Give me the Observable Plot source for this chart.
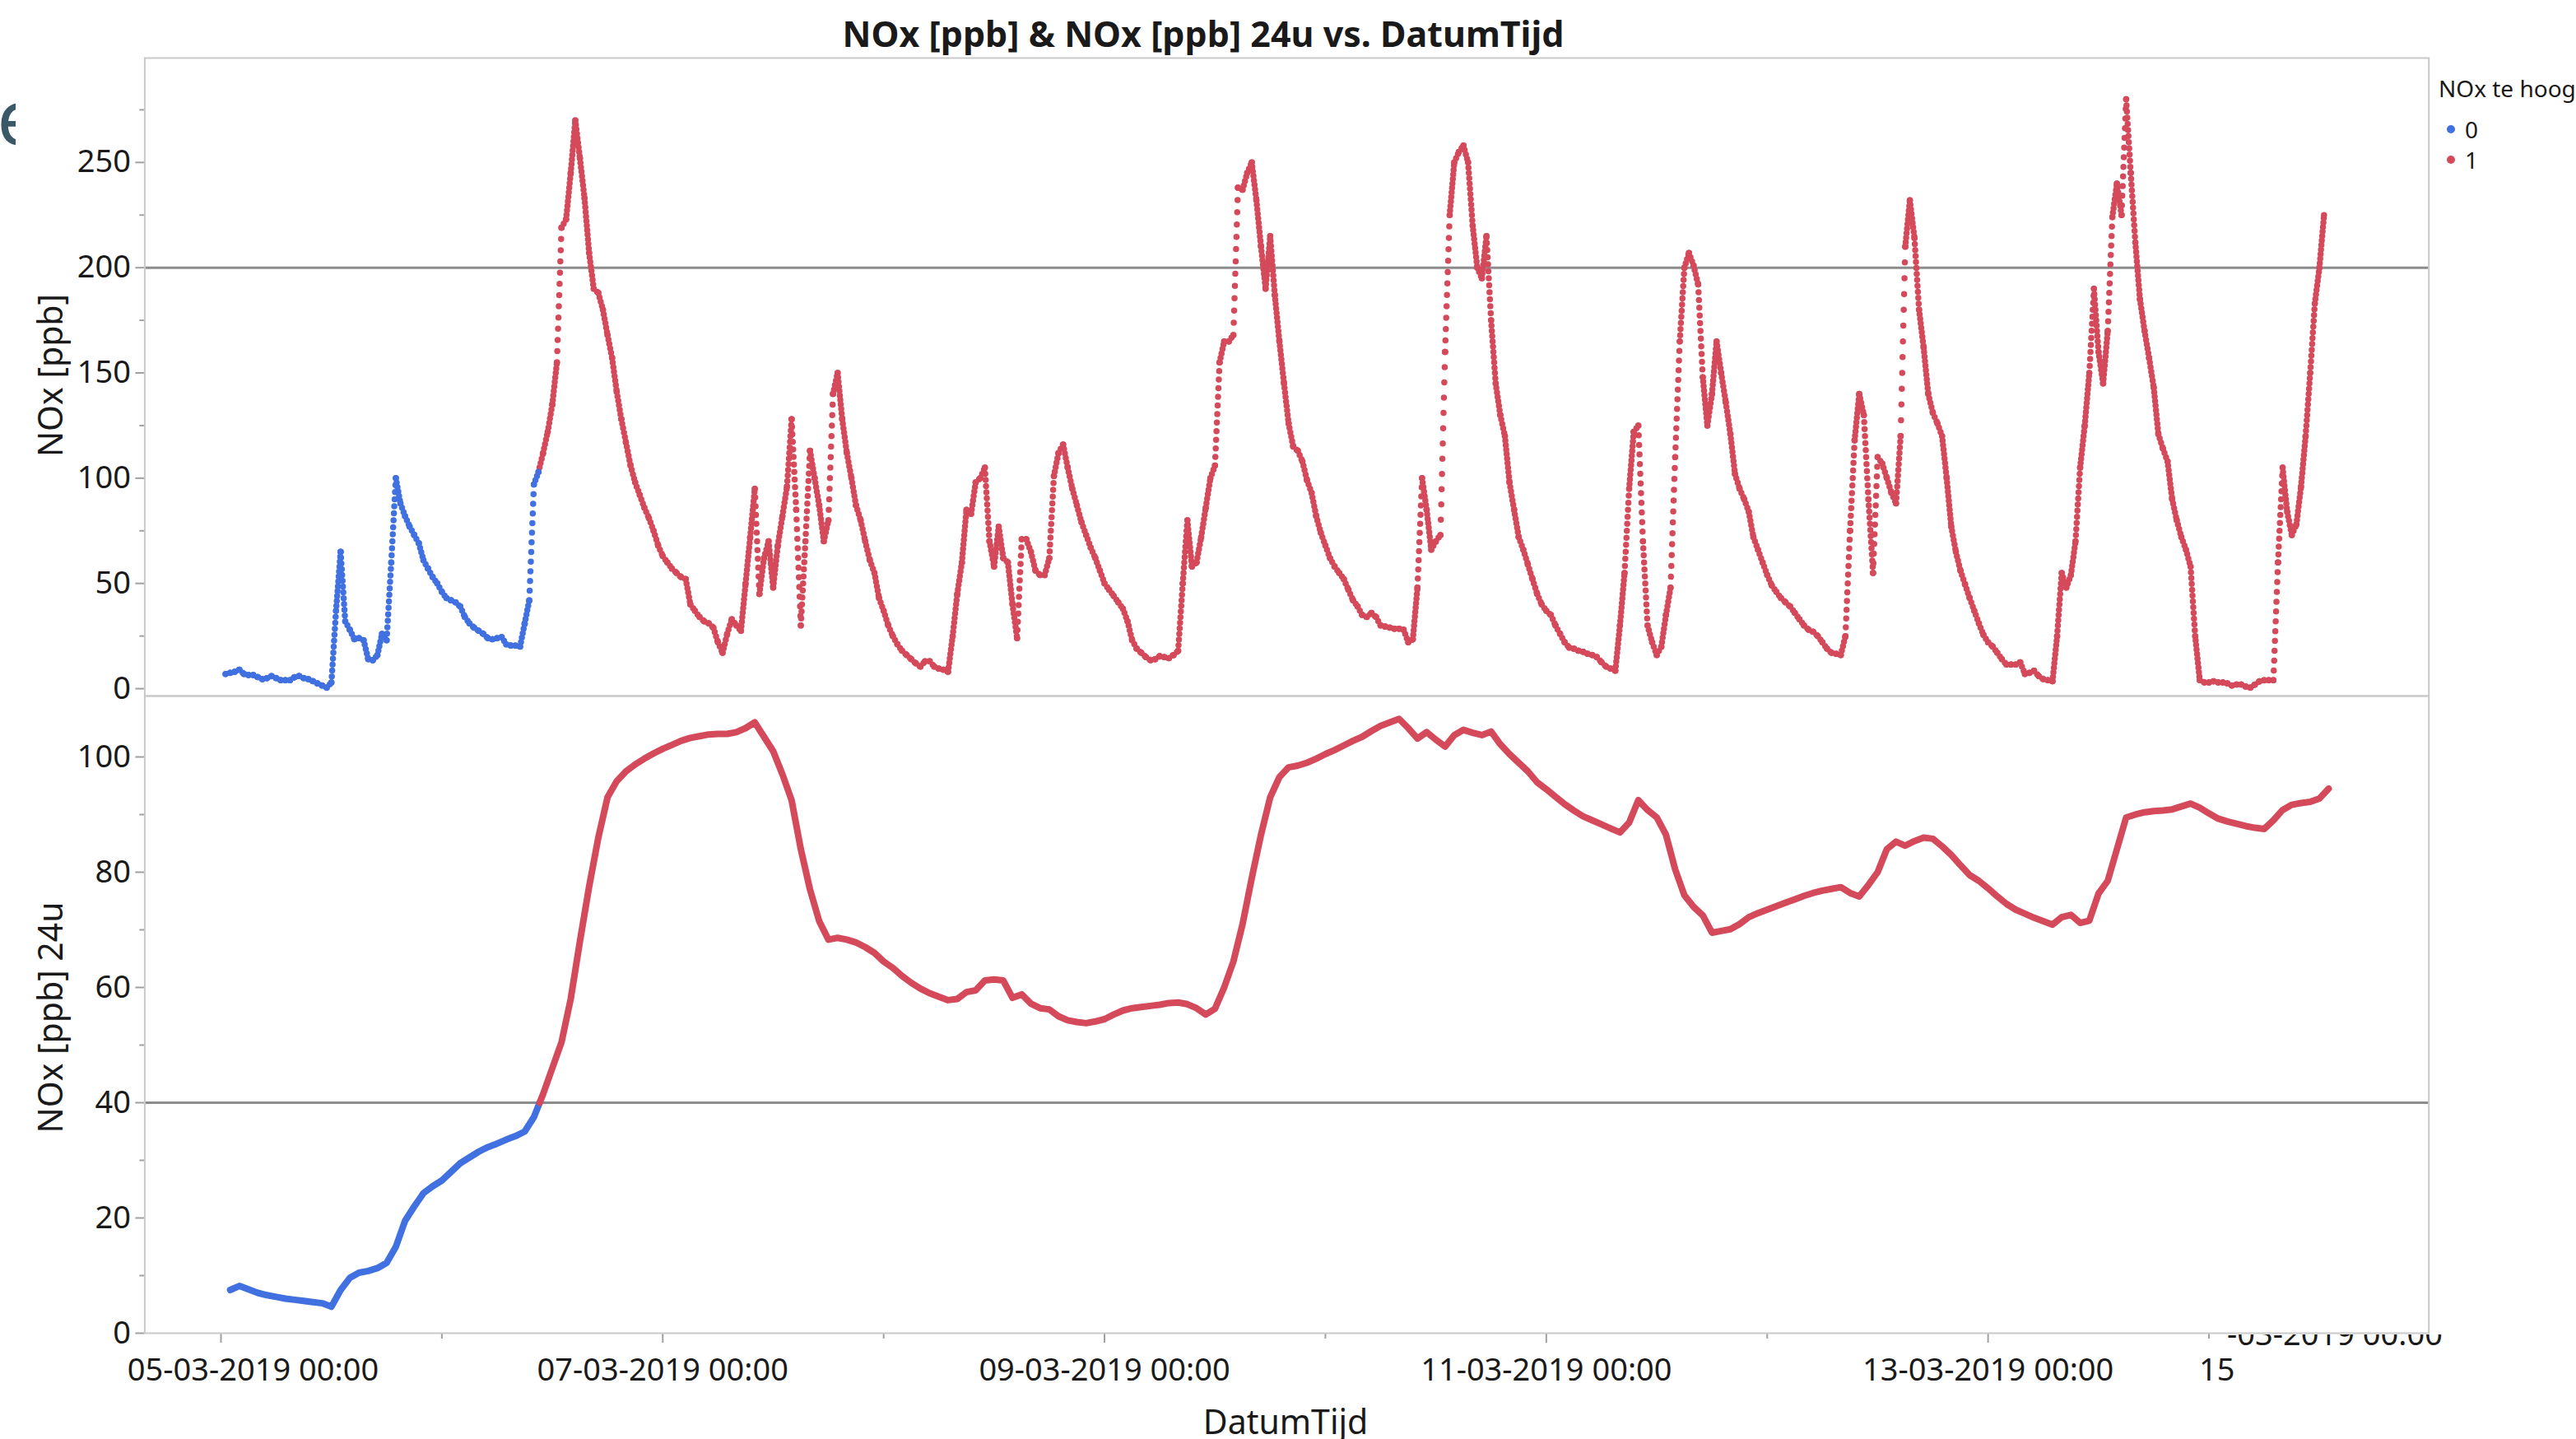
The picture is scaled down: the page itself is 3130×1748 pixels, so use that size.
<!DOCTYPE html>
<html>
<head>
<meta charset="utf-8">
<script src="https://cdn.jsdelivr.net/npm/d3@7"></script>
<script src="https://cdn.jsdelivr.net/npm/@observablehq/plot@0.6"></script>
<style>
  body { margin: 0; background: #fff; }
  #page { position: relative; width: 3130px; height: 1748px; overflow: hidden; background: #fff;
          font-family: "Noto Sans", "Open Sans", sans-serif; color: #1a1a1a; }
  .abs { position: absolute; white-space: nowrap; }
  #page svg { position: absolute; left: 0; max-width: none; }
  .title { font-weight: 700; font-size: 43px; line-height: 43px; }
  .ylab { font-size: 41px; line-height: 41px; transform: translate(-50%, -50%) rotate(-90deg); }
  .xlab { font-size: 41px; line-height: 41px; transform: translate(-50%, -50%); }
  .legend-title { font-size: 28px; line-height: 28px; }
  .legend-item { font-size: 28px; line-height: 28px; display: flex; align-items: center; }
  .legend-item i { display: inline-block; width: 10px; height: 10px; border-radius: 50%; margin-right: 12px; }
</style>
</head>
<body>
<div id="page">
  <div class="abs" style="left:0;top:110px;width:19px;height:90px;overflow:hidden">
    <span class="abs" style="left:-3px;top:-16px;font-size:93px;line-height:93px;color:#3a5866">є</span>
  </div>
  <div id="title" class="abs title" style="left:1462px;top:19px;transform:translateX(-50%)">NOx [ppb] &amp; NOx [ppb] 24u vs. DatumTijd</div>
  <div class="abs ylab" style="left:60px;top:456px">NOx [ppb]</div>
  <div class="abs ylab" style="left:60px;top:1236px">NOx [ppb] 24u</div>
  <div class="abs xlab" style="left:1562px;top:1726px">DatumTijd</div>
  <div class="abs legend-title" style="left:2963px;top:93px">NOx te hoog</div>
  <div class="abs legend-item" style="left:2973px;top:143px"><i id="lg0"></i>0</div>
  <div class="abs legend-item" style="left:2973px;top:180px"><i id="lg1"></i>1</div>
  <div class="abs" style="left:2672px;top:1643px;font-size:38px;line-height:38px">15</div>
  <div class="abs" style="left:2700px;top:1621px;width:268px;height:30px;overflow:hidden">
    <span class="abs" style="right:0;top:-21px;font-size:38px;line-height:38px">-03-2019 00:00</span>
  </div>
</div>
<script>
// Measurement series: hours are counted from 05-03-2019 00:00.
const seriesStart = Date.UTC(2019, 2, 5);

// NOx [ppb], one reading every half hour from 00:30 on 05-03.
const noxFirstHour = 0.5;
const noxStepHours = 0.5;
const nox = [
  7, 7.5, 8, 9, 7, 6.5, 6.5, 5.5, 4.5, 5, 6, 5,
  4, 4, 4, 5.5, 6, 5, 4.5, 3.5, 2.5, 1.5, 0.5, 3,
  37, 65, 32, 28, 23.5, 24, 23, 14, 13.5, 16, 26, 23,
  60, 100, 88, 82, 77, 73, 69, 61, 57, 53, 50, 46,
  43, 42, 41, 39, 34, 31, 29, 27.5, 26, 24, 23.5, 24,
  24.5, 21, 20.5, 20.5, 20, 31, 42, 97, 103, 112, 122, 135,
  155, 219, 223, 245, 270, 252, 233, 207, 190, 188, 180, 168,
  157, 141, 128, 117, 106, 98, 92, 86, 81, 75, 68, 63,
  60, 57, 55, 53, 52, 40, 37, 34, 32, 31, 29, 22,
  17, 26, 33, 30, 27.5, 50, 72, 95, 45, 62, 70, 48,
  68, 82, 96, 128, 85, 30, 70, 113, 100, 87, 70, 80,
  140, 150, 128, 112, 100, 87, 80, 70, 61, 55, 43, 37,
  30, 25, 21, 18, 16, 14, 12, 10.5, 13, 13, 10.5, 9.5,
  9, 8, 25, 45, 60, 85, 83, 98, 100, 105, 70, 58,
  77, 62, 60, 40, 24, 71, 71, 65, 56, 54, 54, 62,
  101, 112, 116, 105, 95, 87, 79, 73, 67, 62, 56, 50,
  47, 44, 41, 38, 32, 23, 19, 17, 15, 13.5, 14, 15.5,
  15, 14.5, 16, 18, 50, 80, 58, 60, 72, 86, 100, 106,
  155, 165, 165, 168, 238, 237, 245, 250, 232, 210, 190, 215,
  187, 165, 145, 126, 115, 113, 108, 99, 93, 82, 74, 68,
  62, 58, 55, 52, 47, 42, 39, 35, 34, 36, 34, 30,
  29.5, 29, 28.5, 28.5, 28, 22, 23.5, 48, 100, 85, 66, 70,
  73, 160, 225, 250, 255, 258, 250, 220, 200, 195, 215, 175,
  145, 130, 120, 98, 85, 72, 66, 59, 52, 45, 40, 37,
  35, 30, 26, 22, 19.5, 19, 18, 17.5, 16.5, 16, 15, 12.5,
  10.5, 9.5, 8.5, 30, 55, 95, 122, 125, 70, 30, 22, 16,
  20, 35, 48, 110, 165, 200, 207, 201, 192, 148, 125, 140,
  165, 150, 136, 121, 102, 95, 90, 84, 72, 66, 60, 54,
  49, 46, 43, 41, 39, 36, 33, 30, 28, 27, 25, 22,
  19, 17, 16.5, 16, 25, 75, 118, 140, 130, 90, 55, 110,
  107, 100, 93, 88, 120, 210, 232, 214, 180, 162, 140, 131,
  126, 120, 100, 77, 65, 56, 49.5, 43, 37, 31, 25.5, 22,
  20, 17, 14, 11.5, 11.5, 11.5, 12.5, 7, 7.5, 8.5, 6, 4.5,
  4, 3.5, 25, 55, 48, 54, 70, 105, 125, 150, 190, 160,
  145, 170, 224, 240, 225, 280, 245, 212, 185, 170, 157, 143,
  121, 114, 108, 90, 80, 72, 66, 58, 25, 4, 3, 3,
  3.5, 3, 3, 2.5, 1.5, 2, 2, 1, 0.5, 2, 3.5, 4,
  4, 4, 60, 105, 84, 73, 78, 96, 120, 150, 183, 200,
  225
];

// NOx [ppb] 24u (running 24-hour mean), one value per hour from 01:00 on 05-03.
const nox24FirstHour = 1;
const nox24StepHours = 1;
const nox24 = [
  7.5, 8.2, 7.6, 7.0, 6.6, 6.3, 6.0, 5.8, 5.6, 5.4, 5.2, 4.6,
  7.5, 9.6, 10.5, 10.8, 11.3, 12.2, 15, 19.5, 22, 24.3, 25.5, 26.5,
  28, 29.5, 30.5, 31.5, 32.3, 32.9, 33.6, 34.2, 35, 37.5, 41.5, 46,
  50.5, 58, 68, 77.5, 86, 93, 95.8, 97.5, 98.7, 99.7, 100.6, 101.4,
  102.1, 102.8, 103.3, 103.6, 103.9, 104, 104, 104.3, 105, 106, 103.5, 101,
  97, 92.5, 84, 77, 71.5, 68.3, 68.6, 68.3, 67.8, 67, 66, 64.5,
  63.4, 62, 60.8, 59.8, 59, 58.4, 57.8, 58, 59.2, 59.5, 61.2, 61.4,
  61.2, 58.2, 58.8, 57.2, 56.4, 56.2, 55, 54.3, 54, 53.8, 54.1, 54.5,
  55.3, 56, 56.4, 56.6, 56.8, 57, 57.3, 57.4, 57.1, 56.4, 55.3, 56.3,
  60, 64.5, 71, 79, 86.5, 93, 96.5, 98.2, 98.5, 99, 99.7, 100.5,
  101.2, 102, 102.8, 103.5, 104.5, 105.4, 106, 106.6, 105, 103.2, 104.3, 103,
  101.8, 103.8, 104.7, 104.2, 103.8, 104.4, 102.2, 100.5, 99, 97.5, 95.6, 94.4,
  93.1, 91.8, 90.7, 89.7, 89, 88.3, 87.6, 86.9, 88.6, 92.5, 90.8, 89.5,
  86.5, 80.5, 76, 74, 72.5, 69.5, 69.8, 70.1, 71, 72.2, 72.9, 73.5,
  74.1, 74.7, 75.3, 75.9, 76.4, 76.8, 77.1, 77.4, 76.4, 75.8, 77.8, 80,
  84, 85.3, 84.6, 85.4, 86, 85.8, 84.5, 83, 81.2, 79.5, 78.5, 77.2,
  75.8, 74.5, 73.5, 72.8, 72.1, 71.5, 70.9, 72.2, 72.6, 71.2, 71.6, 76.3,
  78.5, 84, 89.5, 90, 90.4, 90.6, 90.7, 90.9, 91.4, 91.9, 91.2, 90.2,
  89.3, 88.8, 88.4, 88, 87.7, 87.5, 89, 90.8, 91.7, 92, 92.2, 92.8,
  94.5
];

// Limits drawn as reference lines; "NOx te hoog" = 24u mean above its limit.
const noxLimit = 200;
const nox24Limit = 40;
const flagLevels = [0, 1];
const flagColors = ["#4170e0", "#d44a5b"];

// Axis ticks.
const noxTicks = [0, 50, 100, 150, 200, 250];
const noxMinorTicks = [25, 75, 125, 175, 225, 275];
const nox24Ticks = [0, 20, 40, 60, 80, 100];
const nox24MinorTicks = [10, 30, 50, 70, 90];
const labelDays = [5, 7, 9, 11, 13];
const minorDays = [6, 8, 10, 12, 14];

const hourMs = 3600 * 1000;
const toTime = h => new Date(seriesStart + h * hourMs);
const dayTime = d => new Date(Date.UTC(2019, 2, d));
const fmt = d3.utcFormat("%d-%m-%Y %H:%M");

// Linear reading of the hourly 24u mean at any hour, used for the flag.
function nox24At(h) {
  const p = (h - nox24FirstHour) / nox24StepHours;
  const i = Math.max(0, Math.min(nox24.length - 2, Math.floor(p)));
  const t = Math.max(0, Math.min(1, p - i));
  return nox24[i] * (1 - t) + nox24[i + 1] * t;
}

const noxRows = nox.map((v, i) => {
  const h = noxFirstHour + i * noxStepHours;
  return {time: toTime(h), value: v, flag: nox24At(h) > nox24Limit ? 1 : 0};
});
const nox24Rows = nox24.map((v, i) => {
  const h = nox24FirstHour + i * nox24StepHours;
  return {h, time: toTime(h), value: v, flag: v > nox24Limit ? 1 : 0};
});

// Consecutive NOx readings, drawn as beaded steps between samples.
const noxSteps = noxRows.slice(1).map((d, i) => ({from: noxRows[i], to: d}));

// Split the 24u line where it crosses the limit so each part takes its flag colour.
const k = nox24Rows.findIndex(d => d.flag === 1);
const a = nox24Rows[k - 1], b = nox24Rows[k];
const tc = (nox24Limit - a.value) / (b.value - a.value);
const cross = {time: toTime(a.h + tc * (b.h - a.h)), value: nox24Limit};
const lowPart = [...nox24Rows.slice(0, k), cross];
const highPart = [cross, ...nox24Rows.slice(k)];

const xDomain = [toTime(-8.28), toTime(239.89)];
const W = 3130, ML = 175.4, MR = 179.3;
const tickGray = "#a0a0a0";
const frameGray = "#c9c9c9";
const baseStyle = {fontFamily: '"Noto Sans", "Open Sans", sans-serif', fontSize: "38px", color: "#1a1a1a", background: "transparent", overflow: "visible"};

const colorScale = {type: "ordinal", domain: flagLevels, range: flagColors};

const topPlot = Plot.plot({
  width: W, height: 846, marginLeft: ML, marginRight: MR, marginTop: 70, marginBottom: 1,
  style: baseStyle,
  x: {type: "utc", domain: xDomain, axis: null},
  y: {domain: [-3.5, 299.6]},
  color: colorScale,
  marks: [
    Plot.ruleY([noxLimit], {stroke: "#8c8c8c", strokeWidth: 3}),
    Plot.axisY({ticks: noxMinorTicks, tickSize: 6, fill: "none", stroke: tickGray, strokeWidth: 2, label: null}),
    Plot.axisY({ticks: noxTicks, tickSize: 11, tickPadding: 6, stroke: tickGray, strokeWidth: 2, fill: "#1a1a1a", label: null}),
    Plot.link(noxSteps, {
      x1: d => d.from.time, y1: d => d.from.value,
      x2: d => d.to.time, y2: d => d.to.value,
      stroke: d => d.to.flag, strokeWidth: 7.5, strokeLinecap: "round"
    }),
    Plot.dot(noxRows, {x: "time", y: "value", fill: "flag", r: 3.75, stroke: null}),
    Plot.frame({stroke: frameGray, strokeWidth: 2})
  ]
});

const bottomPlot = Plot.plot({
  width: W, height: 903, marginLeft: ML, marginRight: MR, marginTop: 0, marginBottom: 129,
  style: baseStyle,
  x: {type: "utc", domain: xDomain},
  y: {domain: [0, 110.57]},
  marks: [
    Plot.ruleY([nox24Limit], {stroke: "#8c8c8c", strokeWidth: 3}),
    Plot.axisY({ticks: nox24MinorTicks, tickSize: 6, fill: "none", stroke: tickGray, strokeWidth: 2, label: null}),
    Plot.axisY({ticks: nox24Ticks, tickSize: 11, tickPadding: 6, stroke: tickGray, strokeWidth: 2, fill: "#1a1a1a", label: null}),
    Plot.axisX({ticks: labelDays.map(dayTime), tickSize: 12, fill: "none", stroke: tickGray, strokeWidth: 2, label: null}),
    Plot.axisX({ticks: minorDays.map(dayTime), tickSize: 7, fill: "none", stroke: tickGray, strokeWidth: 2, label: null}),
    Plot.axisX({ticks: labelDays.slice(0, 1).map(dayTime), tickSize: 0, tickPadding: 31, dx: 39, stroke: "none", fill: "#1a1a1a", tickFormat: fmt, label: null}),
    Plot.axisX({ticks: labelDays.slice(1).map(dayTime), tickSize: 0, tickPadding: 31, stroke: "none", fill: "#1a1a1a", tickFormat: fmt, label: null}),
    Plot.line(lowPart, {x: "time", y: "value", stroke: flagColors[0], strokeWidth: 8, strokeLinecap: "round", strokeLinejoin: "round"}),
    Plot.line(highPart, {x: "time", y: "value", stroke: flagColors[1], strokeWidth: 8, strokeLinecap: "round", strokeLinejoin: "round"}),
    Plot.frame({stroke: frameGray, strokeWidth: 2})
  ]
});

const page = document.getElementById("page");
topPlot.style.top = "0px";
bottomPlot.style.top = "845px";
page.insertBefore(bottomPlot, page.firstChild);
page.insertBefore(topPlot, page.firstChild);
document.getElementById("lg0").style.background = flagColors[0];
document.getElementById("lg1").style.background = flagColors[1];

// Space the beads along each step as frequent sampling would: dense on gentle
// stretches, spread out where the reading jumps.
for (const p of topPlot.querySelectorAll('g[aria-label="link"] path, g[aria-label="link"] line')) {
  const len = p.getTotalLength ? p.getTotalLength() : 0;
  const gap = Math.max(5.5, len / 12);
  p.setAttribute("stroke-dasharray", `0 ${gap.toFixed(2)}`);
}
</script>
</body>
</html>
